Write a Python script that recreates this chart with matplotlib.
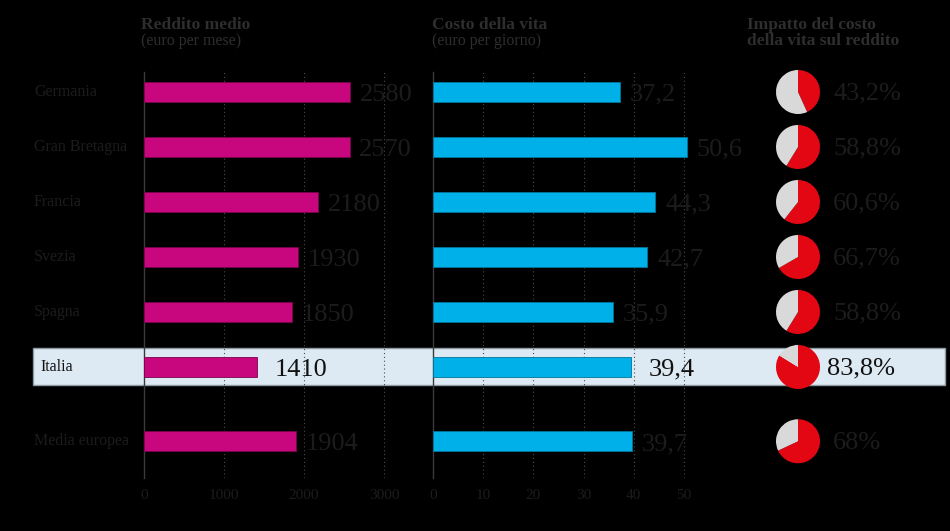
import matplotlib.pyplot as plt
import matplotlib.transforms as mtransforms
from matplotlib.patches import Rectangle

plt.rcParams['font.family'] = ['Liberation Serif', 'DejaVu Serif']

# Data
paesi = ['Germania', 'Gran Bretagna', 'Francia', 'Svezia', 'Spagna', 'Italia', 'Media europea']
reddito = [2580, 2570, 2180, 1930, 1850, 1410, 1904]
costo_vita = [37.2, 50.6, 44.3, 42.7, 35.9, 39.4, 39.7]
impatto = [43.2, 58.8, 60.6, 66.7, 58.8, 83.8, 68]
impatto_lbl = ['43,2%', '58,8%', '60,6%', '66,7%', '58,8%', '83,8%', '68%']
reddito_ticks = [0, 1000, 2000, 3000]
costo_ticks = [0, 10, 20, 30, 40, 50]

# row positions (the average row sits a bit further down)
ypos = [0, 1, 2, 3, 4, 5, 6.35]
ITALIA = 5

MAGENTA = '#c8077e'
CYAN = '#00b0e8'
RED = '#e30613'
GREY = '#d9d9d9'
TXT = '#1c1c1c'
HEAD = '#2e2e2e'

W, H = 950, 531
fig = plt.figure(figsize=(W / 100, H / 100), dpi=100, facecolor='black')

top_px, bot_px = 72, 478
px_unit = 55.0
ylim = (bot_px - 92) / px_unit, (top_px - 92) / px_unit


def px_axes(x0, width):
    return fig.add_axes([x0 / W, 1 - bot_px / H, width / W, (bot_px - top_px) / H])


ax1 = px_axes(144, 248)
ax2 = px_axes(433, 261)
ax3 = px_axes(760, 185)

# highlight band behind the Italy row
band_tr = mtransforms.blended_transform_factory(fig.transFigure, ax1.transData)
fig.patches.append(Rectangle((33 / W, ITALIA - 0.345), 912 / W, 0.67,
                             transform=band_tr, facecolor='#deeaf3',
                             edgecolor='#8e9aa3', lw=1, zorder=-1))


def bar_panel(ax, values, ticks, xmax, color, edge, fmt):
    ax.set_facecolor('none')
    ax.barh(ypos, values, height=0.37, color=color, edgecolor=edge, lw=0.6, zorder=3)
    ax.set_xlim(0, xmax)
    ax.set_ylim(*ylim)
    ax.set_xticks(ticks)
    ax.set_yticks([])
    ax.tick_params(axis='x', length=0, pad=8, labelsize=11, labelcolor=TXT)
    for s in ['top', 'right', 'bottom']:
        ax.spines[s].set_visible(False)
    ax.spines['left'].set_color('#3a3a3a')
    ax.spines['left'].set_linewidth(1)
    for t in ticks[1:]:
        ax.axvline(t, color='#4a4a4a', lw=0.8, ls=(0, (1, 2.5)), zorder=1)
    for i, (y, v) in enumerate(zip(ypos, values)):
        off = 13 if i == ITALIA else 7
        ax.annotate(fmt(v), (v, y), xytext=(off, -2), textcoords='offset points',
                    ha='left', va='center', fontsize=19,
                    color='#111111' if i == ITALIA else TXT, zorder=4)


bar_panel(ax1, reddito, reddito_ticks, 3100, MAGENTA, '#7a044d', lambda v: f'{v}')
bar_panel(ax2, costo_vita, costo_ticks, 52, CYAN, '#00769c',
          lambda v: f'{v:.1f}'.replace('.', ','))

# country labels
lab_tr = mtransforms.blended_transform_factory(fig.transFigure, ax1.transData)
for i, (y, p) in enumerate(zip(ypos, paesi)):
    ita = i == ITALIA
    ax1.text((40 if ita else 34) / W, y, p, transform=lab_tr, ha='left', va='center',
             fontsize=11.5, color='#111111' if ita else TXT)

# pies (y axis is inverted, so start at -90 and go "counterclockwise" in data space)
ax3.set_facecolor('none')
for i, (y, p) in enumerate(zip(ypos, impatto)):
    ax3.pie([p, 100 - p], colors=[RED, GREY], startangle=-90, counterclock=True,
            center=(38 / px_unit, y), radius=22 / px_unit, frame=True,
            wedgeprops=dict(lw=0))
    ax3.text((67 if i == ITALIA else 73) / px_unit, y + 0.03, impatto_lbl[i],
             ha='left', va='center', fontsize=19,
             color='#111111' if i == ITALIA else TXT)
ax3.set_axis_off()
ax3.set_aspect('auto')
ax3.set_xlim(0, 185 / px_unit)
ax3.set_ylim(*ylim)

# column headers
heads = [(141, 'Reddito medio', '(euro per mese)'),
         (432, 'Costo della vita', '(euro per giorno)'),
         (747, 'Impatto del costo', 'della vita sul reddito')]
for x, l1, l2 in heads:
    bold2 = x == 747
    fig.text(x / W, 1 - 29 / H, l1, fontsize=12.5, fontweight='bold', color=HEAD,
             va='baseline')
    fig.text(x / W, 1 - 45 / H, l2, fontsize=12.5 if bold2 else 11.5, color=HEAD,
             va='baseline', fontweight='bold' if bold2 else 'normal')

fig.savefig('out.png', dpi=100, facecolor='black')
